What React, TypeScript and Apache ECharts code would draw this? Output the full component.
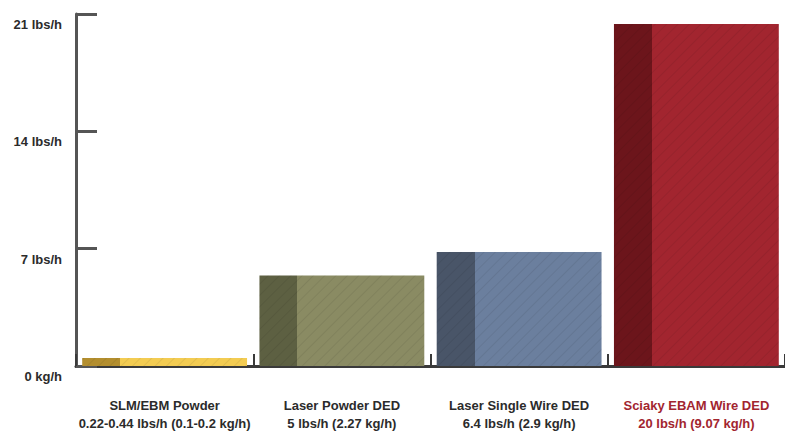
import React, { useEffect, useRef } from "react";
import * as echarts from "echarts";

const categories = ["SLM/EBM Powder", "Laser Powder DED", "Laser Single Wire DED", "Sciaky EBAM Wire DED"];
const rateLabels = ["0.22-0.44 lbs/h (0.1-0.2 kg/h)", "5 lbs/h (2.27 kg/h)", "6.4 lbs/h (2.9 kg/h)", "20 lbs/h (9.07 kg/h)"];
const values = [0.48, 5.4, 6.8, 20.4];
const darkColors = ["#b38e2e", "#5d6042", "#495568", "#6c151b"];
const lightColors = ["#f3cc52", "#8a8b63", "#6b7f9e", "#a2252f"];
const yTicks = [0, 7, 14, 21];
const yTickLabels = ["0 kg/h", "7 lbs/h", "14 lbs/h", "21 lbs/h"];

const FONT = "'Liberation Sans Narrow', 'Liberation Sans', Arial, sans-serif";

export default function App() {
  const ref = useRef<HTMLDivElement>(null);
  useEffect(() => {
    if (!ref.current) return;
    const chart = echarts.init(ref.current, undefined, { renderer: "svg" });
    const data = values.map((v, i) => ({
      value: v,
      itemStyle: {
        color: new echarts.graphic.LinearGradient(0, 0, 1, 0, [
          { offset: 0, color: darkColors[i] },
          { offset: 0.23, color: darkColors[i] },
          { offset: 0.23, color: lightColors[i] },
          { offset: 1, color: lightColors[i] },
        ]),
        decal: {
          symbol: "rect",
          dashArrayX: [1, 0],
          dashArrayY: [1, 7],
          rotation: -Math.PI / 4,
          color: "rgba(0,0,0,0.07)",
        },
      },
    }));
    chart.setOption({
      animation: false,
      backgroundColor: "#ffffff",
      grid: { left: 76, right: 0, top: 14, bottom: 66, containLabel: false },
      xAxis: {
        type: "category",
        data: categories,
        axisLine: { show: true, lineStyle: { color: "#3a3a3a", width: 3 } },
        axisTick: { show: true, inside: true, length: 12, lineStyle: { color: "#3a3a3a", width: 2 } },
        axisLabel: {
          margin: 30,
          interval: 0,
          formatter: (val: string, idx: number) =>
            idx === 3 ? `{r|${val}}\n{r|${rateLabels[idx]}}` : `{a|${val}}\n{a|${rateLabels[idx]}}`,
          rich: {
            a: { fontFamily: FONT, fontWeight: "bold", fontSize: 13, color: "#2b2b2b", lineHeight: 18 },
            r: { fontFamily: FONT, fontWeight: "bold", fontSize: 13, color: "#a2252f", lineHeight: 18 },
          },
        },
      },
      yAxis: {
        type: "value",
        min: 0,
        max: 21,
        interval: 7,
        splitLine: { show: false },
        axisLine: { show: true, lineStyle: { color: "#555555", width: 3 } },
        axisTick: { show: true, inside: true, length: 21, lineStyle: { color: "#555555", width: 3 } },
        axisLabel: {
          margin: 14,
          fontFamily: FONT,
          fontWeight: "bold",
          fontSize: 13,
          color: "#2b2b2b",
          verticalAlign: "top",
          lineHeight: 13,
          padding: [4, 0, 0, 0],
          formatter: (v: number) => yTickLabels[yTicks.indexOf(v)] ?? String(v),
        },
      },
      aria: { enabled: false, decal: { show: false } },
      series: [
        {
          type: "bar",
          data,
          barWidth: "93%",
          itemStyle: { borderWidth: 0 },
        },
      ],
    });
    return () => chart.dispose();
  }, []);
  return (
    <div
      ref={ref}
      style={{ position: "fixed", left: 0, top: 0, width: 785, height: 432 }}
    />
  );
}
